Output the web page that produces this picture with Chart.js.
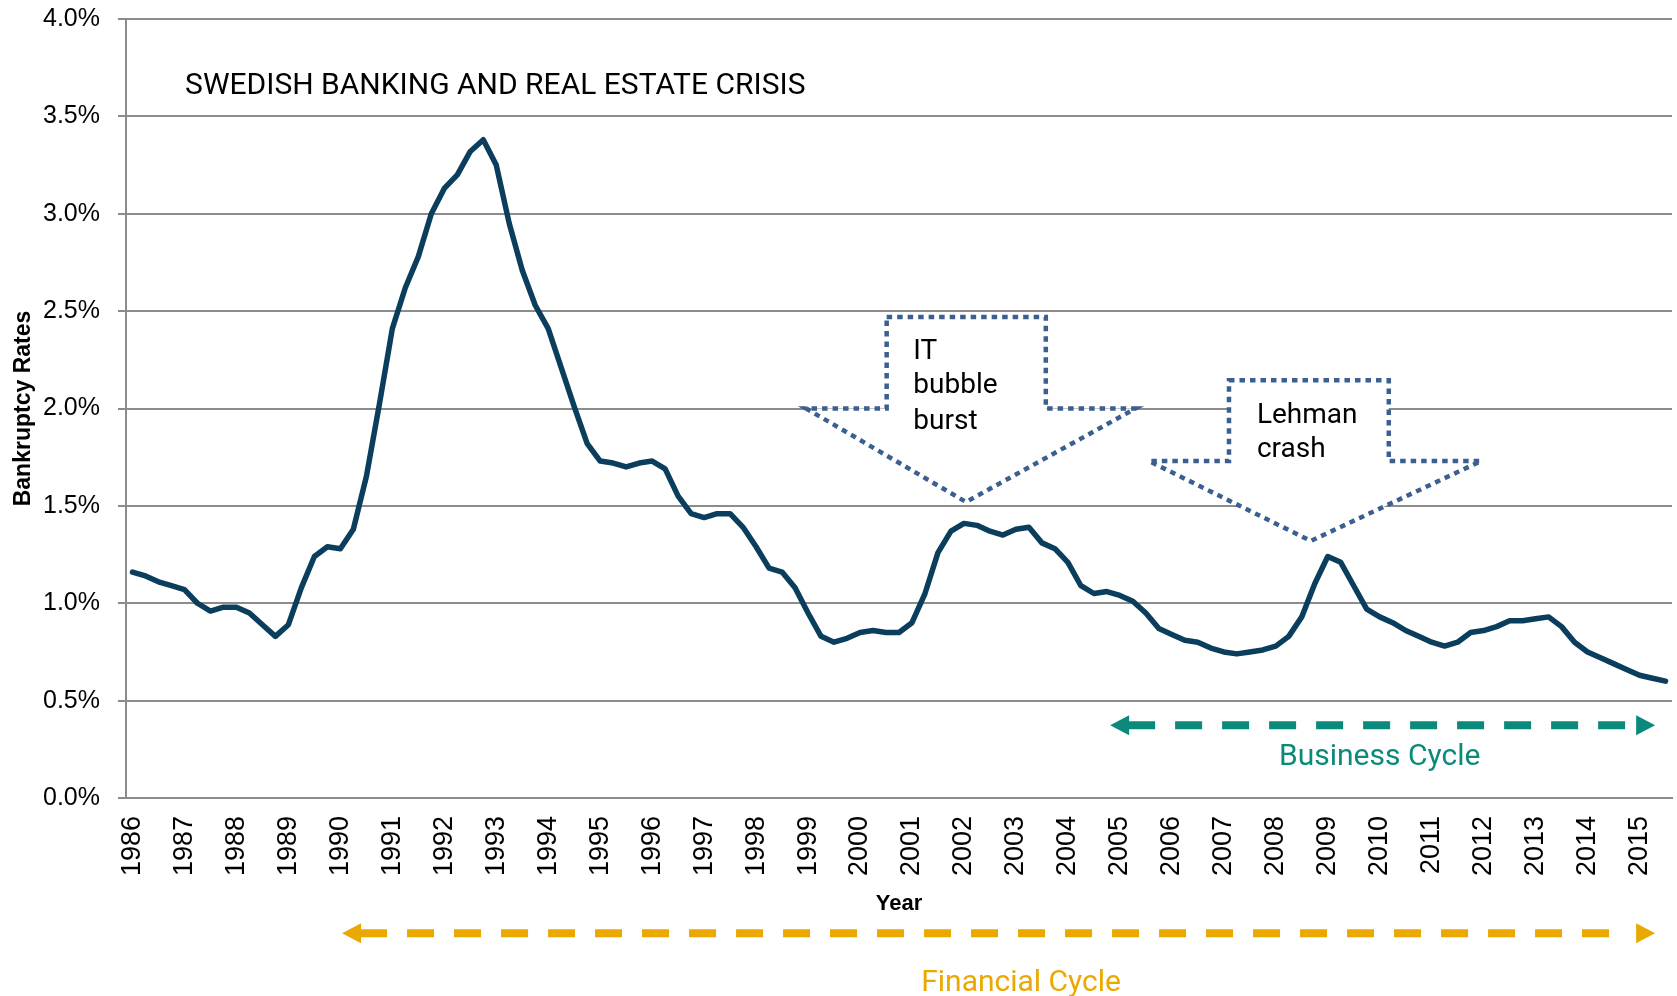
<!DOCTYPE html>
<html>
<head>
<meta charset="utf-8">
<title>Swedish bankruptcy rates</title>
<script src="https://cdn.jsdelivr.net/npm/chart.js@4.4.1/dist/chart.umd.min.js"></script>
<style>
    html, body { margin: 0; padding: 0; background: #fff; }
    #wrap { width: 1677px; height: 996px; }
</style>
</head>
<body>
<div id="wrap"><canvas id="chart" width="1677" height="996"></canvas></div>
<script>
/* ==========================================================================
   Bankruptcy rates, quarterly, 1986Q1 - 2015Q3
   ========================================================================== */

var years = [1986, 1987, 1988, 1989, 1990, 1991, 1992, 1993, 1994, 1995,
             1996, 1997, 1998, 1999, 2000, 2001, 2002, 2003, 2004, 2005,
             2006, 2007, 2008, 2009, 2010, 2011, 2012, 2013, 2014, 2015];

// one row per year, Q1..Q4 (%)
var rates = [
    1.16, 1.14, 1.11, 1.09,   // 1986
    1.07, 1.00, 0.96, 0.98,   // 1987
    0.98, 0.95, 0.89, 0.83,   // 1988
    0.89, 1.08, 1.24, 1.29,   // 1989
    1.28, 1.38, 1.65, 2.02,   // 1990
    2.41, 2.62, 2.78, 3.00,   // 1991
    3.13, 3.20, 3.32, 3.38,   // 1992
    3.25, 2.95, 2.71, 2.53,   // 1993
    2.41, 2.21, 2.01, 1.82,   // 1994
    1.73, 1.72, 1.70, 1.72,   // 1995
    1.73, 1.69, 1.55, 1.46,   // 1996
    1.44, 1.46, 1.46, 1.39,   // 1997
    1.29, 1.18, 1.16, 1.08,   // 1998
    0.95, 0.83, 0.80, 0.82,   // 1999
    0.85, 0.86, 0.85, 0.85,   // 2000
    0.90, 1.05, 1.26, 1.37,   // 2001
    1.41, 1.40, 1.37, 1.35,   // 2002
    1.38, 1.39, 1.31, 1.28,   // 2003
    1.21, 1.09, 1.05, 1.06,   // 2004
    1.04, 1.01, 0.95, 0.87,   // 2005
    0.84, 0.81, 0.80, 0.77,   // 2006
    0.75, 0.74, 0.75, 0.76,   // 2007
    0.78, 0.83, 0.93, 1.10,   // 2008
    1.24, 1.21, 1.09, 0.97,   // 2009
    0.93, 0.90, 0.86, 0.83,   // 2010
    0.80, 0.78, 0.80, 0.85,   // 2011
    0.86, 0.88, 0.91, 0.91,   // 2012
    0.92, 0.93, 0.88, 0.80,   // 2013
    0.75, 0.72, 0.69, 0.66,   // 2014
    0.63, 0.615, 0.60         // 2015 (Q1-Q3)
];

var yTicks = [0, 0.5, 1.0, 1.5, 2.0, 2.5, 3.0, 3.5, 4.0];

// quarter labels, only Q1 gets the year printed
var quarters = [];
years.forEach(function(y) {
    for (var q = 1; q <= 4; q++) quarters.push(y + " Q" + q);
});
quarters = quarters.slice(0, rates.length);

// annotations, positioned in chart units (x = quarter index, y = percent)
var chartTitle = { text: "SWEDISH BANKING AND REAL ESTATE CRISIS", x: 4.05, y: 3.655 };

var itBurst = {
    lines: ["IT", "bubble", "burst"], textX: 60.1, textY: [2.292, 2.113, 1.933],
    boxL: 58.05, boxR: 70.3, wingL: 51.85, wingR: 77.2, tipX: 64.16,
    top: 2.47, base: 2.0, tipY: 1.52
};
var lehman = {
    lines: ["Lehman", "crash"], textX: 86.55, textY: [1.964, 1.785],
    boxL: 84.4, boxR: 96.7, wingL: 78.25, wingR: 103.8, tipX: 90.7,
    top: 2.145, base: 1.73, tipY: 1.32
};

var businessCycle = { text: "Business Cycle", from: 75.25, to: 117.2, y: 0.374, labelX: 96.0, labelY: 0.21, color: "#0b8a7b" };
var financialCycle = { text: "Financial Cycle", from: 16.13, to: 117.2, y: -0.695, labelX: 68.4, labelY: -0.95, color: "#e9a900" };

var TEXT_FONT = "Roboto, 'Liberation Sans', sans-serif";
var AXIS_FONT = "'Liberation Sans', Arial, sans-serif";

function _callout(ctx, xs, ys, c) {
    ctx.save();
    ctx.beginPath();
    ctx.moveTo(xs(c.boxL), ys(c.top));
    ctx.lineTo(xs(c.boxR), ys(c.top));
    ctx.lineTo(xs(c.boxR), ys(c.base));
    ctx.lineTo(xs(c.wingR), ys(c.base));
    ctx.lineTo(xs(c.tipX), ys(c.tipY));
    ctx.lineTo(xs(c.wingL), ys(c.base));
    ctx.lineTo(xs(c.boxL), ys(c.base));
    ctx.closePath();
    ctx.fillStyle = "#ffffff";
    ctx.fill();
    ctx.setLineDash([5.5, 5]);
    ctx.lineWidth = 4.5;
    ctx.strokeStyle = "#3b5f8e";
    ctx.stroke();
    ctx.setLineDash([]);

    ctx.fillStyle = "#000";
    ctx.font = "28px " + TEXT_FONT;
    ctx.textAlign = "left";
    ctx.textBaseline = "middle";
    c.lines.forEach(function(t, i) {
        ctx.fillText(t, xs(c.textX), ys(c.textY[i]));
    });
    ctx.restore();
}

function _cycle(ctx, xs, ys, c) {
    var x1 = xs(c.from), x2 = xs(c.to), y = ys(c.y);
    var head = 19, half = 10;
    ctx.save();
    ctx.strokeStyle = c.color;
    ctx.fillStyle = c.color;
    ctx.lineWidth = 8;
    ctx.setLineDash([27, 20]);
    ctx.beginPath();
    ctx.moveTo(x1 + head - 1, y);
    ctx.lineTo(x2 - head - 8, y);
    ctx.stroke();
    ctx.setLineDash([]);

    ctx.beginPath();
    ctx.moveTo(x1, y);
    ctx.lineTo(x1 + head, y - half);
    ctx.lineTo(x1 + head, y + half);
    ctx.closePath();
    ctx.fill();

    ctx.beginPath();
    ctx.moveTo(x2, y);
    ctx.lineTo(x2 - head, y - half);
    ctx.lineTo(x2 - head, y + half);
    ctx.closePath();
    ctx.fill();

    ctx.font = "30px " + TEXT_FONT;
    ctx.textAlign = "center";
    ctx.textBaseline = "middle";
    ctx.fillText(c.text, xs(c.labelX), ys(c.labelY));
    ctx.restore();
}

var overlay = {
    id: "overlay",
    afterDatasetsDraw: function(chart) {
        var ctx = chart.ctx;
        var sx = chart.scales.x, sy = chart.scales.y;
        var xs = function(v) { return sx.getPixelForValue(v); };
        var ys = function(v) { return sy.getPixelForValue(v); };

        _callout(ctx, xs, ys, itBurst);
        _callout(ctx, xs, ys, lehman);

        ctx.save();
        ctx.fillStyle = "#000";
        ctx.font = "30px " + TEXT_FONT;
        ctx.textAlign = "left";
        ctx.textBaseline = "middle";
        ctx.fillText(chartTitle.text, xs(chartTitle.x), ys(chartTitle.y));
        ctx.restore();

        _cycle(ctx, xs, ys, businessCycle);
        _cycle(ctx, xs, ys, financialCycle);
    }
};

new Chart(document.getElementById("chart"), {
    type: "line",
    data: {
        labels: quarters,
        datasets: [{
            label: "Bankruptcy rate",
            data: rates,
            borderColor: "#0a3e5c",
            borderWidth: 5.5,
            pointRadius: 0,
            tension: 0,
            fill: false,
            borderJoinStyle: "round",
            borderCapStyle: "round"
        }]
    },
    options: {
        responsive: false,
        animation: false,
        devicePixelRatio: 1,
        layout: { padding: { top: 19, right: 5, left: 0, bottom: 0 } },
        plugins: { legend: { display: false }, tooltip: { enabled: false } },
        scales: {
            x: {
                type: "category",
                offset: true,
                grid: { display: false, drawTicks: false },
                border: { display: true, color: "#8c8c8c", width: 2 },
                ticks: {
                    autoSkip: false,
                    minRotation: 90,
                    maxRotation: 90,
                    padding: 18,
                    color: "#000",
                    font: { family: AXIS_FONT, size: 27 },
                    callback: function(v, i) { return i % 4 === 0 ? String(years[i / 4]) : ""; }
                },
                title: {
                    display: true,
                    text: "Year",
                    color: "#000",
                    font: { family: AXIS_FONT, size: 22, weight: "bold" },
                    padding: { top: 0, bottom: 79 }
                },
                afterFit: function(s) { s.height = 198; s.paddingLeft = 0; s.paddingRight = 0; }
            },
            y: {
                min: 0,
                max: 4,
                afterBuildTicks: function(s) { s.ticks = yTicks.map(function(v) { return { value: v }; }); },
                grid: { color: "#8c8c8c", lineWidth: 2, tickLength: 8 },
                border: { color: "#8c8c8c", width: 2 },
                ticks: {
                    padding: 18,
                    color: "#000",
                    font: { family: AXIS_FONT, size: 25 },
                    callback: function(v) { return v.toFixed(1) + "%"; }
                },
                title: {
                    display: true,
                    text: "Bankruptcy Rates",
                    color: "#000",
                    font: { family: AXIS_FONT, size: 23, weight: "bold" },
                    padding: { top: 10, bottom: 0 }
                },
                afterFit: function(s) { s.width = 126; s.paddingTop = 0; s.paddingBottom = 0; }
            }
        }
    },
    plugins: [overlay]
});
</script>
</body>
</html>
